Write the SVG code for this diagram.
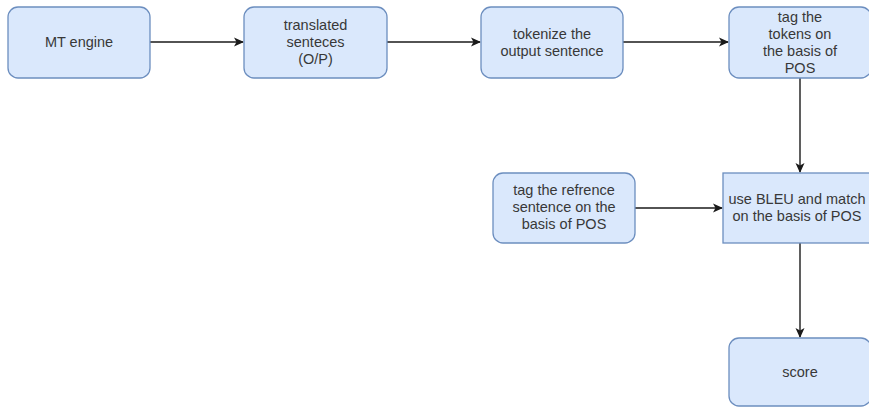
<svg xmlns="http://www.w3.org/2000/svg" width="869" height="408" viewBox="0 0 869 408">
  <style>
    .box { fill: #dae8fc; stroke: #6c8ebf; stroke-width: 1.3; }
    .lbl { font-family: "Liberation Sans", Arial, sans-serif; font-size: 14.5px; fill: #383838; text-anchor: middle; }
    .edge { fill: none; stroke: #1a1a1a; stroke-width: 1.4; marker-end: url(#arrow); }
  </style>
  <defs>
    <marker id="arrow" viewBox="0 0 10 10" refX="9" refY="5" markerWidth="10" markerHeight="10" markerUnits="userSpaceOnUse" orient="auto">
      <path d="M0,0.5 L10,5 L0,9.5 L2.5,5 Z" fill="#1a1a1a"/>
    </marker>
  </defs>
  <rect width="869" height="408" fill="#ffffff"/>

  <g id="connectors">
    <path class="edge" d="M150,42 L243,42"/>
    <path class="edge" d="M387,42 L480,42"/>
    <path class="edge" d="M623,42 L728,42"/>
    <path class="edge" d="M800,78 L800,172"/>
    <path class="edge" d="M635,208 L722,208"/>
    <path class="edge" d="M800,243 L800,337"/>
  </g>

  <g id="mt-engine">
    <rect class="box" x="8" y="7" width="142" height="71" rx="10"/>
    <text class="lbl" x="79" y="47">MT engine</text>
  </g>

  <g id="translated">
    <rect class="box" x="244" y="7" width="143" height="71" rx="10"/>
    <text class="lbl" x="315.5" y="30">translated</text>
    <text class="lbl" x="315.5" y="47">senteces</text>
    <text class="lbl" x="315.5" y="64">(O/P)</text>
  </g>

  <g id="tokenize">
    <rect class="box" x="481" y="7" width="142" height="71" rx="10"/>
    <text class="lbl" x="552" y="38.5">tokenize the</text>
    <text class="lbl" x="552" y="55.5">output sentence</text>
  </g>

  <g id="tag-tokens">
    <rect class="box" x="729" y="7" width="142" height="71" rx="10"/>
    <text class="lbl" x="800" y="21.5">tag the</text>
    <text class="lbl" x="800" y="38.5">tokens on</text>
    <text class="lbl" x="800" y="55.5">the basis of</text>
    <text class="lbl" x="800" y="72.5">POS</text>
  </g>

  <g id="tag-reference">
    <rect class="box" x="493" y="173" width="142" height="70" rx="10"/>
    <text class="lbl" x="564" y="195">tag the refrence</text>
    <text class="lbl" x="564" y="212">sentence on the</text>
    <text class="lbl" x="564" y="229">basis of POS</text>
  </g>

  <g id="bleu-match">
    <rect class="box" x="723" y="173" width="154" height="70"/>
    <text class="lbl" x="797" y="203.5">use BLEU and match</text>
    <text class="lbl" x="797" y="220.5">on the basis of POS</text>
  </g>

  <g id="score">
    <rect class="box" x="729" y="338" width="142" height="68" rx="10"/>
    <text class="lbl" x="800" y="377">score</text>
  </g>
</svg>
